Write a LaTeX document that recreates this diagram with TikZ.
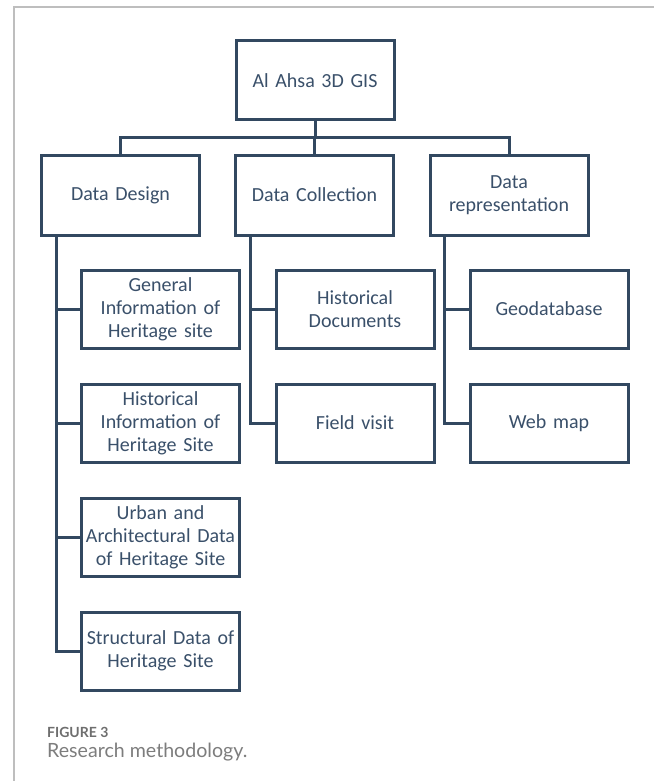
\documentclass[tikz,border=0pt]{standalone}
\usepackage{fontspec}
\setmainfont{Carlito}
\newfontfamily\capfont{Lato}
\definecolor{ink}{RGB}{50,72,96}
\definecolor{txt}{RGB}{58,80,106}
\definecolor{framegray}{RGB}{190,190,190}
\definecolor{capgray}{RGB}{110,110,110}
\definecolor{capgraytwo}{RGB}{125,125,125}
\tikzset{
  box/.style={draw=ink, line width=3pt, rectangle, minimum width=158pt, minimum height=78pt,
    align=center, text=txt, font=\fontsize{20}{23}\selectfont, inner sep=0pt, text width=155pt},
  conn/.style={draw=ink, line width=3pt},
  framel/.style={draw=framegray, line width=1.4pt}
}
\begin{document}
\begin{tikzpicture}[x=1pt,y=-1pt]
\useasboundingbox (0,0) rectangle (654,781);
\fill[white] (0,0) rectangle (654,781);
\draw[framel] (14,781) -- (14,7) -- (654,7);

\node[box, minimum height=79pt] (top) at (315,80.5) {Al Ahsa 3D GIS};
\node[box, minimum height=80pt] (design) at (120.5,195) {Data Design};
\node[box, minimum height=80pt] (coll) at (314.5,195) {Data Collection};
\node[box, minimum height=80pt] (rep) at (509,195) {Data\\representation};

\node[box] (g1) at (160.5,309) {General\\Information of\\Heritage site};
\node[box] (g2) at (160.5,423) {Historical\\Information of\\Heritage Site};
\node[box] (g3) at (160.5,537) {Urban and\\Architectural Data\\of Heritage Site};
\node[box] (g4) at (160.5,651) {Structural Data of\\Heritage Site};

\node[box] (c1) at (355,309) {Historical\\Documents};
\node[box] (c2) at (355,423) {Field visit};

\node[box] (r1) at (549,309) {Geodatabase};
\node[box] (r2) at (549,423) {Web map};

\coordinate (bus) at (315,137);
\draw[conn] (top.south) -- (top.south |- bus);
\draw[conn] (design.north) -- (design.north |- bus) -- (rep.north |- bus) -- (rep.north);
\draw[conn] (coll.north) -- (coll.north |- bus);

\coordinate (dt) at ([xshift=16pt]design.south west);
\coordinate (ct) at ([xshift=16pt]coll.south west);
\coordinate (rt) at ([xshift=16pt]rep.south west);

\draw[conn] (dt) |- (g4.west);
\draw[conn] (g1.west) -- (g1.west -| dt);
\draw[conn] (g2.west) -- (g2.west -| dt);
\draw[conn] (g3.west) -- (g3.west -| dt);

\draw[conn] (ct) |- (c2.west);
\draw[conn] (c1.west) -- (c1.west -| ct);

\draw[conn] (rt) |- (r2.west);
\draw[conn] (r1.west) -- (r1.west -| rt);

\node[anchor=base west, inner sep=0pt, text=capgray, font=\capfont\bfseries\fontsize{14}{16}\selectfont] (figlbl) at (47,737) {FIGURE 3};
\node[anchor=base west, inner sep=0pt, text=capgraytwo, font=\capfont\fontsize{19.6}{23}\selectfont] (figcap) at (47,757) {Research methodology.};
\end{tikzpicture}
\end{document}
